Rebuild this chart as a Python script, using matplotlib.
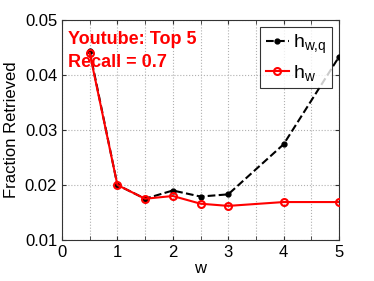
import numpy as np
import matplotlib
matplotlib.use('Agg')
import matplotlib.pyplot as plt
from matplotlib.ticker import MultipleLocator

plt.rcParams['font.family'] = ['Liberation Sans', 'DejaVu Sans']

# data
w = [0.5, 1, 1.5, 2, 2.5, 3, 4, 5]
h_wq = [0.0443, 0.0200, 0.0175, 0.0190, 0.0179, 0.0183, 0.0274, 0.0433]
h_w = [0.0440, 0.0200, 0.0175, 0.0180, 0.0166, 0.0162, 0.0169, 0.0169]
x_ticks = [0, 1, 2, 3, 4, 5]
y_ticks = [0.01, 0.02, 0.03, 0.04, 0.05]

fig = plt.figure(figsize=(3.74, 2.81), dpi=100)
ax = fig.add_axes([62 / 374, 41 / 281, 277 / 374, 220 / 281])

ax.plot(w, h_wq, '--', color='black', lw=1.5, marker='o', ms=3.5,
        mfc='black', mec='black', label='$\\mathregular{h_{w{,}q}}$', zorder=3)
ax.plot(w, h_w, '-', color='red', lw=1.5, marker='o', ms=5,
        mfc='none', mec='red', mew=1.5, label='$\\mathregular{h_w}$', zorder=4)

ax.set_xlim(0, 5)
ax.set_ylim(0.01, 0.05)
ax.set_xticks(x_ticks)
ax.set_yticks(y_ticks)
ax.set_yticklabels(['%.2f' % v for v in y_ticks])
ax.xaxis.set_minor_locator(MultipleLocator(0.5))
ax.grid(True, which='both', ls=':', color='#b0b0b0', lw=0.8)
ax.tick_params(which='both', direction='in', labelsize=12, length=3,
               top=True, right=True, colors='#333333', labelcolor='black')
for s in ax.spines.values():
    s.set_color('#333333')

ax.set_xlabel('w', fontsize=12, labelpad=1)
ax.set_ylabel('Fraction Retrieved', fontsize=12, labelpad=4)

ax.text(0.02, 0.95, 'Youtube: Top 5\nRecall = 0.7', transform=ax.transAxes,
        color='red', fontsize=13, fontweight='bold', va='top', ha='left',
        linespacing=1.45)

leg = ax.legend(loc='upper right', fontsize=14, frameon=True, fancybox=False,
                edgecolor='black', handlelength=1.2, borderaxespad=0.35,
                handletextpad=0.2, labelspacing=0.35, borderpad=0.3)
leg.get_frame().set_linewidth(0.8)

fig.savefig('out.png', dpi=100)
